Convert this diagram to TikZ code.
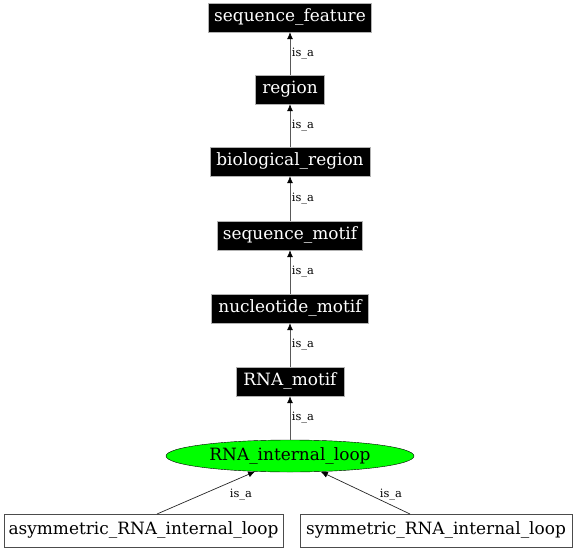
\documentclass[tikz,border=0pt]{standalone}
\usepackage{fontspec}
\setmainfont{DejaVu Serif}
\usetikzlibrary{shapes.geometric,arrows.meta}
\begin{document}
\begin{tikzpicture}[x=1bp,y=-1bp,
  term/.style={fill=black,text=white,draw=gray!60,font=\fontsize{17}{19}\selectfont,inner sep=0pt,minimum height=29bp},
  leaf/.style={fill=white,draw=black!70,font=\fontsize{17}{19}\selectfont,inner sep=0pt,minimum height=33bp},
  edge/.style={draw=gray!70!black,line width=0.7bp,-{Latex[length=7bp,width=6bp,black]}},
  lab/.style={font=\fontsize{11.5}{13}\selectfont,inner sep=1.5bp}]
\useasboundingbox (0,0) rectangle (576,552);
\node[term,minimum width=163bp] (sf) at (290,17.5) {sequence\_feature};
\node[term,minimum width=69bp] (rg) at (290,89.5) {region};
\node[term,minimum width=160bp] (br) at (290,161.5) {biological\_region};
\node[term,minimum width=145bp] (sm) at (290,235.5) {sequence\_motif};
\node[term,minimum width=157bp] (nm) at (290,308.5) {nucleotide\_motif};
\node[term,minimum width=108bp] (rm) at (290,381.5) {RNA\_motif};
\node[ellipse,fill=green,draw=black,minimum width=248bp,minimum height=32bp,inner sep=0pt,font=\fontsize{17}{19}\selectfont] (il) at (290,456) {RNA\_internal\_loop};
\node[leaf,minimum width=279bp] (as) at (143.5,530.5) {asymmetric\_RNA\_internal\_loop};
\node[leaf,minimum width=272bp] (sy) at (436,530.5) {symmetric\_RNA\_internal\_loop};
\draw[edge] (rg.north) -- node[lab,right] {is\_a} (sf.south);
\draw[edge] (br.north) -- node[lab,right] {is\_a} (rg.south);
\draw[edge] (sm.north) -- node[lab,right] {is\_a} (br.south);
\draw[edge] (nm.north) -- node[lab,right] {is\_a} (sm.south);
\draw[edge] (rm.north) -- node[lab,right] {is\_a} (nm.south);
\draw[edge] (il.north) -- node[lab,right] {is\_a} (rm.south);
\coordinate (asT) at (157,514);
\coordinate (syT) at (410,514);
\draw[edge,draw=black!85] (asT) -- (il.204);
\draw[edge,draw=black!85] (syT) -- (il.333);
\node[lab] (l1) at (241,495) {is\_a};
\node[lab] (l2) at (391,495) {is\_a};
\end{tikzpicture}
\end{document}
